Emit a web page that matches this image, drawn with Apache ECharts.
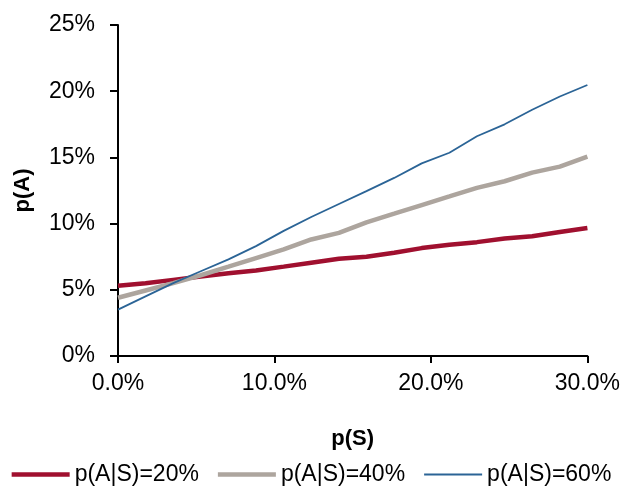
<!DOCTYPE html>
<html><head><meta charset="utf-8">
<script src="https://cdn.jsdelivr.net/npm/echarts@6/dist/echarts.min.js"></script>
<style>html,body{margin:0;padding:0;background:#fff}#c{width:623px;height:496px}</style>
</head><body><div id="c"></div>
<script>
var pS = [0, 1.76, 3.53, 5.29, 7.06, 8.82, 10.59, 12.35, 14.12, 15.88, 17.65, 19.41, 21.18, 22.94, 24.71, 26.47, 28.24, 30];
var s20 = [5.3, 5.5, 5.75, 6.0, 6.25, 6.45, 6.75, 7.05, 7.35, 7.5, 7.8, 8.15, 8.4, 8.6, 8.88, 9.05, 9.37, 9.67];
var s40 = [4.4, 4.95, 5.5, 6.1, 6.75, 7.4, 8.05, 8.8, 9.3, 10.1, 10.75, 11.4, 12.05, 12.7, 13.2, 13.85, 14.3, 15.05];
var s60 = [3.5, 4.5, 5.5, 6.4, 7.3, 8.3, 9.45, 10.5, 11.48, 12.45, 13.45, 14.55, 15.35, 16.6, 17.5, 18.6, 19.6, 20.47];
var names = ['p(A|S)=20%', 'p(A|S)=40%', 'p(A|S)=60%'];
function pts(arr){ return pS.map(function(x,i){ return [x, arr[i]]; }); }
var font = 'Liberation Sans, Arial, sans-serif';
var chart = echarts.init(document.getElementById('c'));
chart.setOption({
  animation: false,
  grid: {left: 118, right: 35, top: 25, bottom: 140, containLabel: false},
  legend: {
    left: 'center', top: 458, itemWidth: 58, itemHeight: 14, itemGap: 19,
    symbolKeepAspect: true,
    textStyle: {fontFamily: font, fontSize: 23, color: '#000'},
    data: [
      {name: names[0], icon: 'path://M0,0h58v4.5h-58z'},
      {name: names[1], icon: 'path://M0,0h58v4.5h-58z'},
      {name: names[2], icon: 'path://M0,0h58v1.8h-58z'}
    ]
  },
  xAxis: {
    type: 'value', min: 0, max: 30, interval: 10,
    name: 'p(S)', nameLocation: 'middle', nameGap: 72,
    nameTextStyle: {fontFamily: font, fontSize: 22, fontWeight: 'bold', color: '#000'},
    axisLine: {lineStyle: {color: '#000', width: 2}},
    axisTick: {show: true, length: 7, lineStyle: {color: '#000', width: 2}},
    axisLabel: {margin: 16, fontFamily: font, fontSize: 23, color: '#000', formatter: function(v){ return v.toFixed(1) + '%'; }},
    splitLine: {show: false}
  },
  yAxis: {
    type: 'value', min: 0, max: 25, interval: 5,
    name: 'p(A)', nameLocation: 'middle', nameGap: 84, nameRotate: 90,
    nameTextStyle: {fontFamily: font, fontSize: 22, fontWeight: 'bold', color: '#000'},
    axisLine: {show: true, lineStyle: {color: '#000', width: 2}},
    axisTick: {show: true, length: 8, lineStyle: {color: '#000', width: 2}},
    axisLabel: {margin: 23, fontFamily: font, fontSize: 23, color: '#000', formatter: '{value}%'},
    splitLine: {show: false}
  },
  series: [
    {name: names[0], type: 'line', data: pts(s20), symbol: 'none', lineStyle: {color: '#A0102F', width: 4.5}, itemStyle: {color: '#A0102F'}},
    {name: names[1], type: 'line', data: pts(s40), symbol: 'none', lineStyle: {color: '#ADA59E', width: 4.5}, itemStyle: {color: '#ADA59E'}},
    {name: names[2], type: 'line', data: pts(s60), symbol: 'none', lineStyle: {color: '#2B6496', width: 1.8}, itemStyle: {color: '#2B6496'}, z: 3}
  ]
});
</script></body></html>
